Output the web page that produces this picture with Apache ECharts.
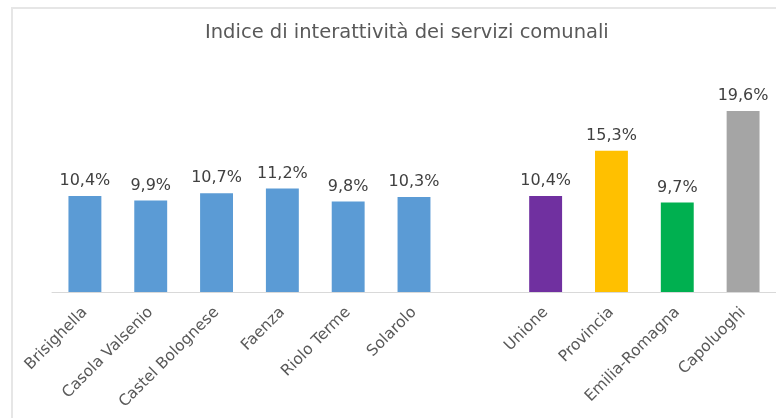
<!DOCTYPE html>
<html>
<head>
<meta charset="utf-8">
<script src="https://cdn.jsdelivr.net/npm/echarts@6/dist/echarts.min.js"></script>
<style>
  html, body { margin: 0; padding: 0; background: #fff; }
  #chart { width: 776px; height: 418px; }
</style>
</head>
<body>
<div id="chart"></div>
<script>
  const categories = ['Brisighella', 'Casola Valsenio', 'Castel Bolognese', 'Faenza', 'Riolo Terme', 'Solarolo', '', 'Unione', 'Provincia', 'Emilia-Romagna', 'Capoluoghi'];
  const values = [10.4, 9.9, 10.7, 11.2, 9.8, 10.3, null, 10.4, 15.3, 9.7, 19.6];
  const barColors = ['#5B9BD5', '#5B9BD5', '#5B9BD5', '#5B9BD5', '#5B9BD5', '#5B9BD5', '#5B9BD5', '#7030A0', '#FFC000', '#00B050', '#A5A5A5'];

  const chart = echarts.init(document.getElementById('chart'));

  const option = {
    animation: false,
    title: {
      text: 'Indice di interattività dei servizi comunali',
      left: 200,
      top: 18,
      textStyle: {
        fontFamily: 'DejaVu Sans',
        fontSize: 19.5,
        fontWeight: 'normal',
        color: '#595959',
      },
    },
    // light frame around the chart area
    graphic: [
      {
        type: 'rect',
        shape: { x: 12, y: 8, width: 800, height: 450 },
        style: { fill: 'none', stroke: '#e6e6e6', lineWidth: 2 },
        silent: true,
      },
    ],
    grid: {
      left: 52,
      right: -3,
      top: 107.4,
      bottom: 126,
    },
    xAxis: {
      type: 'category',
      data: categories,
      axisLine: { lineStyle: { color: '#d9d9d9' } },
      axisTick: { show: false },
      axisLabel: {
        interval: 0,
        rotate: 45,
        margin: 18,
        fontFamily: 'DejaVu Sans',
        fontSize: 15.5,
        color: '#595959',
      },
    },
    yAxis: {
      type: 'value',
      min: 0,
      max: 20,
      show: false,
    },
    series: [
      {
        type: 'bar',
        barWidth: '50%',
        data: values.map((v, i) => ({ value: v, itemStyle: { color: barColors[i] } })),
        label: {
          show: true,
          position: 'top',
          distance: 7,
          fontFamily: 'DejaVu Sans',
          fontSize: 16,
          color: '#404040',
          formatter: (p) => p.value.toFixed(1).replace('.', ',') + '%',
        },
      },
    ],
  };

  chart.setOption(option);
</script>
</body>
</html>
